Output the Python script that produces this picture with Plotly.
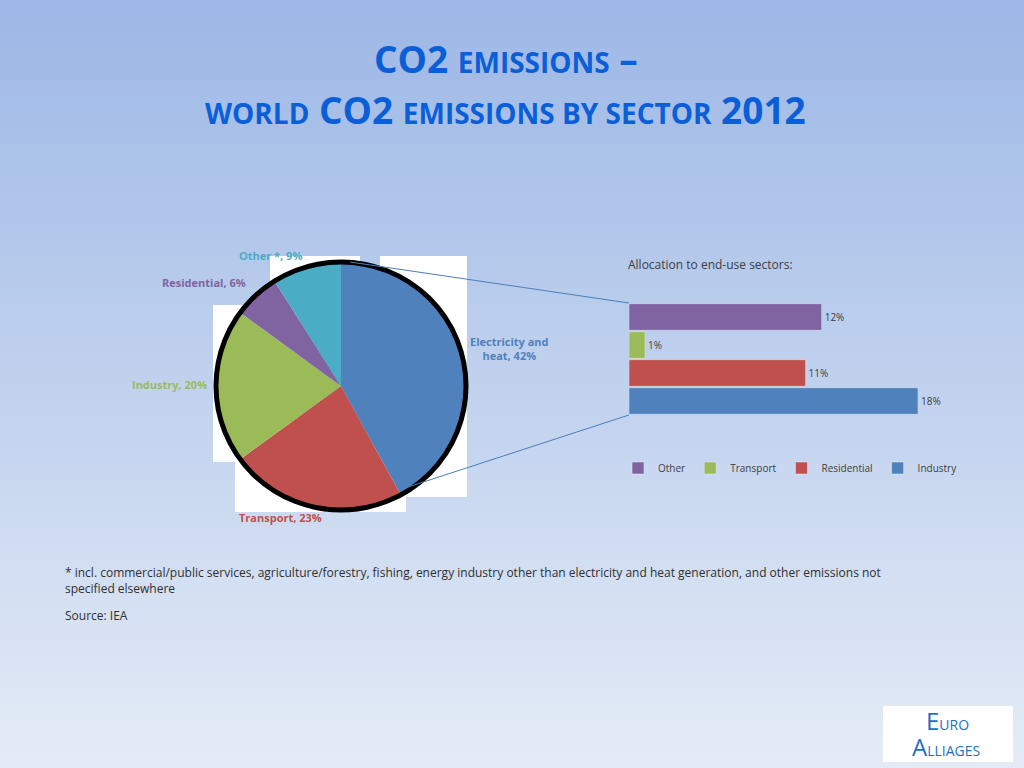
import plotly.graph_objects as go

# pie data
sectors = ["Electricity and<br>heat, 42%", "Transport, 23%", "Industry, 20%", "Residential, 6%", "Other *, 9%"]
shares = [42, 23, 20, 6, 9]
pie_colors = ["#4f81bd", "#c0504d", "#9bbb59", "#8064a2", "#4bacc6"]

# allocation bars
alloc_names = ["Other", "Transport", "Residential", "Industry"]
alloc_vals = [12, 1, 11, 18]
alloc_colors = ["#8064a2", "#9bbb59", "#c0504d", "#4f81bd"]

W, H = 1024, 768
def px(x, y):
    return x / W, 1 - y / H

fig = go.Figure()

fig.add_trace(go.Pie(
    values=shares, labels=sectors, sort=False, direction="clockwise", rotation=0,
    marker=dict(colors=pie_colors, line=dict(width=0)),
    textinfo="none", hoverinfo="label", showlegend=False,
    domain=dict(x=[215 / W, 467 / W], y=[1 - 510 / H, 1 - 262 / H]),
))

for n, v, c in zip(alloc_names, alloc_vals, alloc_colors):
    fig.add_trace(go.Bar(
        x=[v], y=[n], name=n, orientation="h", marker_color=c,
        text=[f"{v}%"], textposition="outside", cliponaxis=False,
        textfont=dict(size=10, color="#404040"),
    ))

shapes = []
# background gradient
top, bot = (157, 184, 230), (228, 235, 246)
N = 48
for i in range(N):
    t = i / (N - 1)
    col = "rgb(%d,%d,%d)" % tuple(round(a + (b - a) * t) for a, b in zip(top, bot))
    shapes.append(dict(type="rect", xref="paper", yref="paper", x0=0, x1=1,
                       y0=1 - (i + 1) / N, y1=1 - i / N + 0.001, line=dict(width=0),
                       fillcolor=col, layer="below"))
# white rectangles behind pie
for (x0, y0, x1, y1) in [(213, 305, 300, 462), (235, 440, 406, 512), (270, 256, 360, 300),
                         (380, 256, 467, 497)]:
    a, b = px(x0, y0)
    c, d = px(x1, y1)
    shapes.append(dict(type="rect", xref="paper", yref="paper", x0=a, x1=c, y0=d, y1=b,
                       fillcolor="white", line=dict(width=0), layer="below"))
# black outline circle
a, b = px(216, 262)
c, d = px(466, 510)
shapes.append(dict(type="circle", xref="paper", yref="paper", x0=a, x1=c, y0=d, y1=b,
                   line=dict(color="black", width=5)))
# connector lines
for (x0, y0, x1, y1) in [(350, 262, 629, 303), (405, 488, 629, 415)]:
    a, b = px(x0, y0)
    c, d = px(x1, y1)
    shapes.append(dict(type="line", xref="paper", yref="paper", x0=a, y0=b, x1=c, y1=d,
                       line=dict(color="#4a7ebb", width=1)))
# logo box
a, b = px(883, 706)
c, d = px(1013, 762)
shapes.append(dict(type="rect", xref="paper", yref="paper", x0=a, x1=c, y0=d, y1=b,
                   fillcolor="white", line=dict(width=0)))

annots = []
def ann(x, y, text, size, color, bold=False, align="left", xanchor="left"):
    a, b = px(x, y)
    annots.append(dict(x=a, y=b, xref="paper", yref="paper", text=f"<b>{text}</b>" if bold else text,
                       showarrow=False, align=align, xanchor=xanchor, yanchor="middle",
                       font=dict(size=size, color=color, family="Open Sans")))

sc = "<span style='font-size:28px'>"
ann(506, 58, f"CO2 {sc}EMISSIONS</span> –", 37, "#0a5fd8", True, "center", "center")
ann(505, 110, f"{sc}WORLD</span> CO2 {sc}EMISSIONS BY SECTOR</span> 2012", 37, "#0a5fd8", True, "center", "center")

lab_pos = [(509, 349, "center", "center"), (280, 517, "center", "center"), (130, 384, "left", "left"),
           (160, 283, "left", "left"), (237, 256, "left", "left")]
for s, c, (x, y, al, xa) in zip(sectors, pie_colors, lab_pos):
    ann(x, y, s, 11, c, True, al, xa)

ann(626, 264, "Allocation to end-use sectors:", 12, "#404040")
ann(63, 580, "* incl. commercial/public services, agriculture/forestry, fishing, energy industry other than electricity and heat generation, and other emissions not<br>specified elsewhere", 12, "#303030")
ann(63, 615, "Source: IEA", 12, "#303030")
ann(947, 720, "<span style='font-size:24px'>E</span>URO", 14, "#1f6fc4", False, "center", "center")
ann(946, 746, "<span style='font-size:24px'>A</span>LLIAGES", 14, "#1f6fc4", False, "center", "center")

fig.update_layout(
    width=W, height=H, margin=dict(l=0, r=0, t=0, b=0),
    paper_bgcolor="#c5d4ee", plot_bgcolor="rgba(0,0,0,0)",
    shapes=shapes, annotations=annots,
    barmode="overlay", bargap=0.05,
    xaxis=dict(domain=[629 / W, 918 / W], range=[0, 18], visible=False),
    yaxis=dict(domain=[1 - 415 / H, 1 - 303 / H], categoryorder="array",
               categoryarray=["Industry", "Residential", "Transport", "Other"], visible=False),
    legend=dict(orientation="h", x=0.772, xanchor="center", y=1 - 468 / H, yanchor="middle",
                font=dict(size=10, color="#404040", family="Open Sans"), bgcolor="rgba(0,0,0,0)",
                itemwidth=30, tracegroupgap=0),
    font=dict(family="Open Sans"),
)

fig.write_html("out.html", config={"displayModeBar": False},
               post_script="document.body.style.margin='0';")
